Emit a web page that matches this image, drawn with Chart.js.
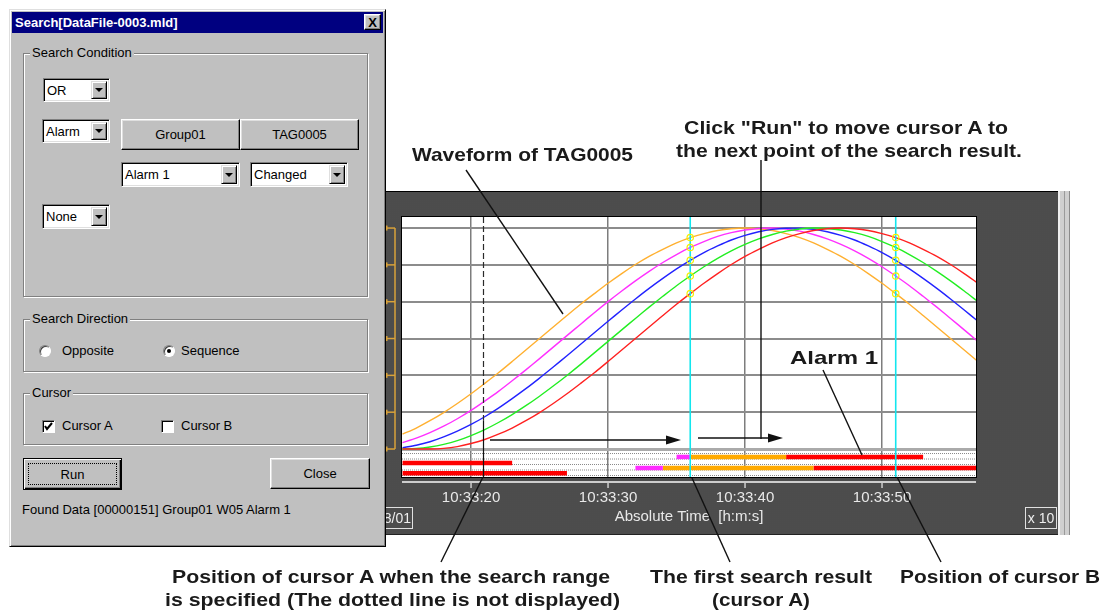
<!DOCTYPE html>
<html><head><meta charset="utf-8">
<script src="https://cdn.jsdelivr.net/npm/chart.js@4.4.1/dist/chart.umd.min.js"></script>
<style>
html,body{margin:0;padding:0;background:#fff;width:1111px;height:612px;overflow:hidden;position:relative;font-family:"Liberation Sans",Arial,sans-serif;}
.a{position:absolute;box-sizing:border-box;}
.dlg{background:#c0c0c0;border:1px solid;border-color:#dfdfdf #000 #000 #dfdfdf;box-shadow:inset 1px 1px 0 #fff,inset -1px -1px 0 #808080;z-index:5;}
.z{z-index:6;}
.gb{border:1px solid #808080;box-shadow:1px 1px 0 #fff,inset 1px 1px 0 #fff;z-index:6;}
.gl{position:absolute;background:#c0c0c0;padding:0 2px;font-size:13px;line-height:15px;color:#000;z-index:7;}
.cb{background:#fff;border:1px solid;border-color:#808080 #fff #fff #808080;box-shadow:inset 1px 1px 0 #000,inset -1px -1px 0 #dfdfdf;font-size:13px;padding-left:3px;display:flex;align-items:center;z-index:7;color:#000;}
.ar{position:absolute;right:2px;top:2px;bottom:2px;width:16px;background:#c0c0c0;border:1px solid;border-color:#dfdfdf #000 #000 #dfdfdf;box-shadow:inset 1px 1px 0 #fff,inset -1px -1px 0 #808080;box-sizing:border-box;}
.ar:after{content:"";position:absolute;left:3px;top:50%;margin-top:-2px;border-left:4px solid transparent;border-right:4px solid transparent;border-top:4px solid #000;}
.bt{background:#c0c0c0;border:1px solid;border-color:#fff #000 #000 #fff;box-shadow:inset -1px -1px 0 #808080,inset 1px 1px 0 #dfdfdf;font-size:13px;display:flex;align-items:center;justify-content:center;z-index:7;color:#000;}
.tx{font-size:13px;color:#000;z-index:7;white-space:nowrap;line-height:16px;}
.rd{width:12px;height:12px;border-radius:50%;background:#fff;border:1px solid;border-color:#808080 #fff #fff #808080;box-shadow:inset 1px 1px 0 #404040;z-index:7;}
.ck{width:13px;height:13px;background:#fff;border:1px solid;border-color:#808080 #fff #fff #808080;box-shadow:inset 1px 1px 0 #000;z-index:7;}
.panel{background-color:#5a5a5a;background-image:radial-gradient(circle,#4c4c4c 0.7px,transparent 0.9px);background-size:2px 2px;border-top:1px solid #000;border-bottom:1px solid #222;z-index:1;}
.ann{position:absolute;font-weight:bold;font-size:18.5px;line-height:20px;color:#1a1a1a;white-space:nowrap;transform-origin:0 0;z-index:20;}
</style></head><body>

<!-- chart panel -->
<div class="a panel" style="left:385px;top:191px;width:673px;height:344px"></div>
<div class="a" style="left:1058px;top:191px;width:12px;height:344px;background:#cfcfcf;border-left:2px solid #f0f0f0;border-right:1px solid #8a8a8a;z-index:1"></div>
<div class="a" style="left:1064px;top:191px;width:1px;height:344px;background:#9a9a9a;z-index:2"></div>
<canvas id="c" width="673" height="342" style="position:absolute;left:385px;top:192px;z-index:3"></canvas>
<div class="a" style="left:372px;top:507px;width:41px;height:22px;border:1px solid #e0e0e0;color:#eee;font-size:14px;text-align:right;padding-right:1px;line-height:20px;z-index:4">8/01</div>
<div class="a" style="left:1025px;top:507px;width:32px;height:22px;border:1px solid #e0e0e0;color:#eee;font-size:14px;text-align:center;line-height:20px;z-index:4">x 10</div>

<!-- dialog -->
<div class="a dlg" style="left:9px;top:9px;width:377px;height:538px"></div>
<div class="a z" style="left:12px;top:12px;width:371px;height:21px;background:#000080"></div>
<div class="a z" style="left:15px;top:12px;height:21px;line-height:21px;color:#fff;font-weight:bold;font-size:13px;white-space:nowrap">Search[DataFile-0003.mld]</div>
<div class="a bt" style="left:364px;top:14px;width:17px;height:16px;font-weight:bold;font-size:13px;z-index:8">X</div>

<div class="a gb" style="left:23px;top:53px;width:345px;height:244px"></div>
<div class="gl" style="left:30px;top:45px">Search Condition</div>
<div class="a cb" style="left:43px;top:78px;width:67px;height:24px">OR<div class="ar"></div></div>
<div class="a cb" style="left:42px;top:119px;width:68px;height:24px">Alarm<div class="ar"></div></div>
<div class="a bt" style="left:121px;top:119px;width:119px;height:31px">Group01</div>
<div class="a bt" style="left:240px;top:119px;width:119px;height:31px">TAG0005</div>
<div class="a cb" style="left:121px;top:162px;width:119px;height:25px">Alarm 1<div class="ar"></div></div>
<div class="a cb" style="left:250px;top:162px;width:98px;height:25px">Changed<div class="ar"></div></div>
<div class="a cb" style="left:42px;top:204px;width:68px;height:25px">None<div class="ar"></div></div>

<div class="a gb" style="left:23px;top:319px;width:345px;height:53px"></div>
<div class="gl" style="left:30px;top:311px">Search Direction</div>
<div class="a rd" style="left:39px;top:345px"></div>
<div class="a tx" style="left:62px;top:343px">Opposite</div>
<div class="a rd" style="left:163px;top:345px"></div>
<div class="a" style="left:167px;top:349px;width:4px;height:4px;border-radius:50%;background:#000;z-index:8"></div>
<div class="a tx" style="left:181px;top:343px">Sequence</div>

<div class="a gb" style="left:23px;top:393px;width:345px;height:52px"></div>
<div class="gl" style="left:30px;top:385px">Cursor</div>
<div class="a ck" style="left:42px;top:420px"></div>
<svg class="a" style="left:42px;top:420px;z-index:8" width="13" height="13"><polyline points="3,6 5,9 10,3" fill="none" stroke="#000" stroke-width="2"/></svg>
<div class="a tx" style="left:62px;top:418px">Cursor A</div>
<div class="a ck" style="left:161px;top:420px"></div>
<div class="a tx" style="left:181px;top:418px">Cursor B</div>

<div class="a bt" style="left:23px;top:458px;width:99px;height:32px;border:1px solid #000;box-shadow:inset 1px 1px 0 #fff,inset -1px -1px 0 #000,inset -2px -2px 0 #808080"><div class="a" style="left:4px;top:4px;right:4px;bottom:4px;border:1px dotted #000"></div>Run</div>
<div class="a bt" style="left:270px;top:458px;width:100px;height:31px">Close</div>
<div class="a tx" style="left:22px;top:502px">Found Data [00000151] Group01 W05 Alarm 1</div>

<!-- annotations -->
<div class="ann" data-cx="522" data-cy="155" data-w="221">Waveform of TAG0005</div>
<div class="ann" data-cx="846" data-cy="128" data-w="324">Click "Run" to move cursor A to</div>
<div class="ann" data-cx="849" data-cy="151" data-w="346">the next point of the search result.</div>
<div class="ann" data-cx="834" data-cy="358" data-w="88">Alarm 1</div>
<div class="ann" data-cx="391" data-cy="577" data-w="438">Position of cursor A when the search range</div>
<div class="ann" data-cx="392" data-cy="600" data-w="455">is specified (The dotted line is not displayed)</div>
<div class="ann" data-cx="761" data-cy="577" data-w="222">The first search result</div>
<div class="ann" data-cx="761" data-cy="600" data-w="98">(cursor A)</div>
<div class="ann" data-cx="1000" data-cy="577" data-w="200">Position of cursor B</div>

<svg class="a" style="left:0;top:0;z-index:19" width="1111" height="612">
  <g stroke="#111" stroke-width="1.4" fill="none">
    <line x1="466" y1="170" x2="563" y2="314"/>
    <line x1="761" y1="160" x2="761" y2="439"/>
    <line x1="490" y1="440" x2="668" y2="440"/>
    <line x1="698" y1="438" x2="770" y2="438"/>
    <line x1="823" y1="370" x2="862" y2="455"/>
    <line x1="441" y1="562" x2="483" y2="477"/>
    <line x1="692" y1="478" x2="730" y2="562"/>
    <line x1="897" y1="477" x2="941" y2="562"/>
  </g>
  <polygon points="681,440 666,435.5 666,444.5" fill="#111"/>
  <polygon points="783,438 768,433.5 768,442.5" fill="#111"/>
</svg>

<script>
// ---- data ----
const seconds = [15,16,17,18,19,20,21,22,23,24,25,26,27,28,29,30,31,32,33,34,35,36,37,38,39,40,41,42,43,44,45,46,47,48,49,50,51,52,53,54,55,56,57];
const trendOrange  = [6.7,9.5,12.8,16.5,20.6,25,29.7,34.5,39.6,44.8,50,55.2,60.4,65.5,70.3,75,79.4,83.5,87.2,90.4,93.3,95.7,97.5,98.9,99.7,100,99.7,98.9,97.5,95.7,93.3,90.4,87.2,83.5,79.4,75,70.3,65.5,60.4,55.2,50,44.8,39.6];
const trendMagenta = [2.9,4.9,7.4,10.3,13.7,17.5,21.7,26.1,30.9,35.8,40.9,46.1,51.3,56.5,61.7,66.7,71.5,76.1,80.4,84.4,88.0,91.2,93.9,96.2,97.9,99.1,99.8,100,99.6,98.6,97.1,95.1,92.6,89.7,86.3,82.5,78.3,73.9,69.1,64.2,59.1,53.9,48.7];
const trendBlue    = [0.6,1.7,3.3,5.5,8.1,11.1,14.6,18.5,22.8,27.3,32.1,37.1,42.2,47.4,52.6,57.8,62.9,67.9,72.7,77.2,81.5,85.4,88.9,91.9,94.6,96.7,98.3,99.4,99.9,99.9,99.4,98.3,96.7,94.6,91.9,88.9,85.4,81.5,77.2,72.7,67.9,62.9,57.8];
const trendGreen   = [0,0.2,0.9,2.1,3.8,6.1,8.8,12.0,15.6,19.6,23.9,28.5,33.3,38.3,43.5,48.7,53.9,59.1,64.2,69.1,73.9,78.3,82.5,86.3,89.7,92.6,95.1,97.1,98.6,99.6,100,99.8,99.1,97.9,96.2,93.9,91.2,88.0,84.4,80.4,76.1,71.5,66.7];
const trendRed     = [0,0,0,0.3,1.1,2.5,4.3,6.7,9.5,12.8,16.5,20.6,25,29.7,34.5,39.6,44.8,50,55.2,60.4,65.5,70.3,75,79.4,83.5,87.2,90.4,93.3,95.7,97.5,98.9,99.7,100,99.7,98.9,97.5,95.7,93.3,90.4,87.2,83.5,79.4,75];
const tickSeconds = [20,30,40,50];
const tickLabels  = ["10:33:20","10:33:30","10:33:40","10:33:50"];
const gridValues  = [0,16.667,33.333,50,66.667,83.333,100];
// alarm segments: row index, start second, end second, alarm level
const alarmRow   = [0,0,0,1,2,2,2,3];
const alarmStart = [35,36,43,15,32,34,45,15];
const alarmEnd   = [36,43,53,23,34,45,57,27];
const alarmLevel = [1,2,3,3,1,2,3,3];
const cursorA = 36, cursorB = 51, searchStart = 20.9;

// ---- config / style ----
const xMin = 14.96, xMax = 56.86, yMin = -12.67, yMax = 105;
const rowLevels = [-3.6,-6.3,-8.6,-11.0];
const trackLevels = [-2.04,-4.53,-7.01,-9.50,-11.99];
const dashedUntil = 13; // dotted part of the start line ends here (value units)
const levelColor = {1:'#ff2cff',2:'#ffaa00',3:'#ff0000'};
const curveDefs = [
  {d:trendRed, c:'#ff2020'},
  {d:trendGreen, c:'#22ee22'},
  {d:trendBlue, c:'#2222ff'},
  {d:trendMagenta, c:'#ff30ff'},
  {d:trendOrange, c:'#ffb030'}
];

const datasets = [];
curveDefs.forEach(cd=>{
  datasets.push({type:'line', data: seconds.map((s,i)=>({x:s,y:cd.d[i]})), borderColor:cd.c, borderWidth:1.4,
    pointRadius:0, tension:0.25, order:1, isCurve:true});
});
alarmRow.forEach((r,i)=>{
  datasets.push({type:'line', data:[{x:alarmStart[i],y:rowLevels[r]},{x:alarmEnd[i],y:rowLevels[r]}],
    borderColor:levelColor[alarmLevel[i]], borderWidth:4.5, borderCapStyle:'butt', pointRadius:0, order:2});
});
trackLevels.forEach(v=>{
  datasets.push({type:'line', data:[{x:xMin,y:v},{x:xMax,y:v}], borderColor:'#8a8a8a', borderWidth:1,
    borderDash:[1,1], pointRadius:0, order:3});
});

const FONT = '"Liberation Sans", Arial';
const decor = {
  id:'decor',
  beforeDraw(c){
    const {ctx, chartArea:a} = c;
    ctx.save(); ctx.fillStyle='#fff'; ctx.fillRect(a.left,a.top,a.right-a.left,a.bottom-a.top); ctx.restore();
  },
  afterDatasetsDraw(c){
    const {ctx, chartArea:a, scales:{x,y}} = c;
    ctx.save();
    // search start line (dashed upper part, solid lower part)
    ctx.strokeStyle='#2a2a2a'; ctx.lineWidth=1.2;
    const ps = Math.round(x.getPixelForValue(searchStart))+0.5;
    const pSplit = y.getPixelForValue(dashedUntil);
    ctx.setLineDash([6,3]);
    ctx.beginPath(); ctx.moveTo(ps,a.top); ctx.lineTo(ps,pSplit); ctx.stroke();
    ctx.setLineDash([]);
    ctx.strokeStyle='#111';
    ctx.beginPath(); ctx.moveTo(ps,pSplit); ctx.lineTo(ps,a.bottom); ctx.stroke();
    // cursors
    ctx.strokeStyle='#12e6ee'; ctx.lineWidth=1.6;
    [cursorA,cursorB].forEach(v=>{const p=x.getPixelForValue(v); ctx.beginPath(); ctx.moveTo(p,a.top); ctx.lineTo(p,a.bottom); ctx.stroke();});
    // markers at cursor/curve intersections
    ctx.strokeStyle='#f4f000'; ctx.lineWidth=1.2;
    c.data.datasets.forEach((ds,di)=>{
      if(!ds.isCurve) return;
      const meta=c.getDatasetMeta(di);
      [cursorA,cursorB].forEach(v=>{
        const idx=seconds.indexOf(v); const el=meta.data[idx];
        if(el){ctx.beginPath(); ctx.arc(el.x,el.y,3.2,0,Math.PI*2); ctx.stroke();}
      });
    });
    // plot border
    ctx.strokeStyle='#000'; ctx.lineWidth=1;
    ctx.strokeRect(a.left-0.5,a.top-0.5,a.right-a.left+1,a.bottom-a.top+1);
    // time axis line & ticks
    ctx.strokeStyle='#cdcdcd'; ctx.lineWidth=2;
    ctx.beginPath(); ctx.moveTo(a.left,a.bottom+5); ctx.lineTo(a.right,a.bottom+5); ctx.stroke();
    ctx.lineWidth=1.5;
    tickSeconds.forEach(v=>{const p=x.getPixelForValue(v); ctx.beginPath(); ctx.moveTo(p,a.bottom+5); ctx.lineTo(p,a.bottom+11); ctx.stroke();});
    // orange scale at left
    ctx.strokeStyle='#d9a23a'; ctx.fillStyle='#d9a23a'; ctx.lineWidth=1.5;
    const xl=a.left-7;
    ctx.beginPath(); ctx.moveTo(xl,y.getPixelForValue(100)); ctx.lineTo(xl,y.getPixelForValue(0)); ctx.stroke();
    gridValues.forEach(v=>{const p=y.getPixelForValue(v);
      ctx.beginPath(); ctx.moveTo(a.left-16,p); ctx.lineTo(xl,p); ctx.stroke();
      ctx.fillRect(a.left-17,p-2.5,2.5,5);});
    ctx.restore();
  }
};

new Chart(document.getElementById('c'), {
  type:'line',
  data:{datasets},
  options:{
    responsive:false, animation:false, devicePixelRatio:1,
    layout:{padding:{left:17,top:25,right:82,bottom:0}},
    plugins:{legend:{display:false}, tooltip:{enabled:false}},
    scales:{
      x:{type:'linear', min:xMin, max:xMax,
        afterBuildTicks:s=>{s.ticks=tickSeconds.map(v=>({value:v}));},
        afterFit:s=>{s.height=57;},
        border:{display:false},
        grid:{color:'#7d7d7d', lineWidth:1.5, drawTicks:false},
        ticks:{color:'#e8e8e8', font:{family:FONT, size:15}, padding:12, maxRotation:0,
          callback:v=>{const i=tickSeconds.indexOf(v); return i>=0?tickLabels[i]:'';}},
        title:{display:true, text:'Absolute Time  [h:m:s]', color:'#e8e8e8', font:{family:FONT, size:15}, padding:{top:0,bottom:8}}
      },
      y:{type:'linear', min:yMin, max:yMax,
        afterBuildTicks:s=>{s.ticks=gridValues.map(v=>({value:v}));},
        afterFit:s=>{s.width=0;},
        border:{display:false},
        ticks:{display:false},
        grid:{drawTicks:false, color:ctx=>ctx.tick && ctx.tick.value===0?'#aaaaaa':'#8c8c8c', lineWidth:ctx=>ctx.tick && ctx.tick.value===0?3:2}
      }
    }
  },
  plugins:[decor]
});

// fit annotation texts
document.querySelectorAll('.ann').forEach(el=>{
  const w=+el.dataset.w, cx=+el.dataset.cx, cy=+el.dataset.cy;
  const nat=el.getBoundingClientRect().width;
  el.style.left=(cx-w/2)+'px'; el.style.top=(cy-10)+'px';
  el.style.transform='scaleX('+(w/nat)+')';
});
</script>
</body></html>
